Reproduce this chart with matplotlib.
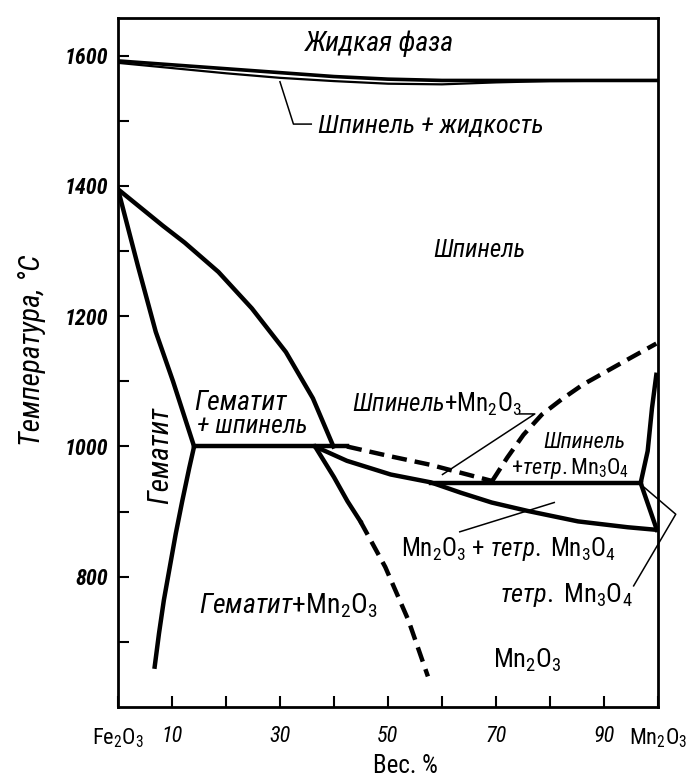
import matplotlib
matplotlib.use("Agg")
import matplotlib.pyplot as plt
from matplotlib import font_manager

# pick a narrow font if there is one, the original uses a condensed drafting type
fam = "DejaVu Sans"
for cand in ["Liberation Sans Narrow", "Roboto Condensed", "Open Sans Condensed"]:
    try:
        font_manager.findfont(font_manager.FontProperties(family=cand), fallback_to_default=False)
        fam = cand
        break
    except ValueError:
        pass

plt.rcParams["font.family"] = [fam, "DejaVu Sans"]
plt.rcParams["mathtext.fontset"] = "custom"
plt.rcParams["mathtext.rm"] = fam
plt.rcParams["mathtext.it"] = fam + ":italic"

# liquidus / solidus
liq_x = [0, 10, 20, 30, 40, 50, 60, 100]
liq_t = [1592, 1586, 1580, 1574, 1568, 1564, 1562, 1562]
sol_x = [0, 10, 20, 30, 40, 50, 60, 70, 80, 100]
sol_t = [1589, 1581, 1573, 1566, 1561, 1557, 1556, 1559, 1561, 1562]

# hematite solvus above and below 1000
hem_x = [0, 3.7, 7.0, 10.2, 14.1]
hem_t = [1395, 1277, 1176, 1100, 1000]
hem_low_x = [14.1, 13.2, 11.9, 10.7, 9.6, 8.5, 7.6, 6.8]
hem_low_t = [1000, 967, 916, 866, 815, 764, 713, 662]

# spinel boundary
spn_x = [0, 8.3, 12.35, 18.6, 24.8, 31.1, 36.1, 39.9]
spn_t = [1395, 1339, 1313, 1268, 1212, 1145, 1074, 1000]

iso1000_x = [14.1, 42.4]
iso1000_t = [1000, 1000]

# Mn2O3 solvus, solid then dashed
mno_x = [36.5, 40.0, 42.5, 44.9]
mno_t = [1000, 953, 916, 885]
mno_d_x = [44.9, 49.5, 53.8, 57.4]
mno_d_t = [885, 815, 733, 647]

# dashed spinel boundaries
dash1_x = [42.4, 50.4, 57.8, 69.3]
dash1_t = [1000, 985, 972, 947]
dash2_x = [69.3, 72.1, 75.1, 78.5, 82.1, 86.1, 90.4, 94.7, 99.7]
dash2_t = [947, 983, 1018, 1049, 1072, 1095, 1115, 1135, 1158]

# lower spinel curve
crv_x = [36.5, 42.4, 50.5, 57.9, 63.5, 69.2, 75.9, 85.2, 94.4, 99.8]
crv_t = [1000, 978, 957, 945, 929, 914, 901, 885, 876, 872]

hor_x = [57.9, 96.8]
hor_t = [944, 944]

rlow_x = [96.8, 99.8]
rlow_t = [944, 872]
rgt_x = [96.8, 98.1, 98.9, 99.7]
rgt_t = [944, 993, 1059, 1110]

# leader lines
ld1_x = [30.0, 32.5, 35.8]
ld1_t = [1560, 1495, 1495]
ld2_x = [74.4, 77.2, 60.1]
ld2_t = [1050, 1050, 957]
ld3_x = [63.3, 80.8]
ld3_t = [869, 914]
ld4_x = [97.5, 103.3, 95.5]
ld4_t = [937, 896, 786]

xticks = [0, 10, 20, 30, 40, 50, 60, 70, 80, 90, 100]
xlabels = [r"$\mathrm{Fe_2O_3}$", "10", "", "30", "", "50", "", "70", "", "90", r"$\mathrm{Mn_2O_3}$"]
yticks = [800, 1000, 1200, 1400, 1600]
yminor = [700, 900, 1100, 1300, 1500]

fig = plt.figure(figsize=(6.98, 7.79), dpi=100)
ax = fig.add_axes([0.169, 0.0924, 0.7736, 0.8846])

thick = 3.2
k = "black"
dash = (0, (3.4, 1.8))

ax.plot(liq_x, liq_t, color=k, lw=2.6)
ax.plot(sol_x, sol_t, color=k, lw=1.6)
ax.plot(hem_x, hem_t, color=k, lw=thick)
ax.plot(hem_low_x, hem_low_t, color=k, lw=thick)
ax.plot(spn_x, spn_t, color=k, lw=thick)
ax.plot(iso1000_x, iso1000_t, color=k, lw=thick)
ax.plot(mno_x, mno_t, color=k, lw=thick)
ax.plot(mno_d_x, mno_d_t, color=k, lw=thick, linestyle=dash)
ax.plot(dash1_x, dash1_t, color=k, lw=thick, linestyle=dash)
ax.plot(dash2_x, dash2_t, color=k, lw=thick, linestyle=dash)
ax.plot(crv_x, crv_t, color=k, lw=thick)
ax.plot(hor_x, hor_t, color=k, lw=thick)
ax.plot(rlow_x, rlow_t, color=k, lw=thick)
ax.plot(rgt_x, rgt_t, color=k, lw=thick)

for lx, lt in [(ld1_x, ld1_t), (ld2_x, ld2_t), (ld3_x, ld3_t), (ld4_x, ld4_t)]:
    ax.plot(lx, lt, color=k, lw=1.1, clip_on=False)

ax.text(48.4, 1618, "Жидкая фаза", fontsize=20, style="italic", ha="center", va="center")
ax.text(37.1, 1492, "Шпинель + жидкость", fontsize=19, style="italic", ha="left", va="center")
ax.text(67, 1301, "Шпинель", fontsize=18, style="italic", ha="center", va="center")
ax.text(22.7, 1067, "Гематит", fontsize=20, style="italic", ha="center", va="center")
ax.text(24.8, 1031, "+ шпинель", fontsize=18.5, style="italic", ha="center", va="center")
ax.text(7.8, 986, "Гематит", fontsize=21, style="italic", ha="center", va="center", rotation=90)
ax.text(43.3, 1064, r"$\mathit{Шпинель}$+Mn$_2$O$_3$", fontsize=18, ha="left", va="center")
ax.text(86.3, 1006, "Шпинель", fontsize=16, style="italic", ha="center", va="center")
ax.text(83.7, 966, r"+$\mathit{тетр.}$Mn$_3$O$_4$", fontsize=16, ha="center", va="center")
ax.text(52.4, 843, r"Mn$_2$O$_3$ + $\mathit{тетр.}$ Mn$_3$O$_4$", fontsize=18, ha="left", va="center")
ax.text(83, 772, r"$\mathit{тетр.}$ Mn$_3$O$_4$", fontsize=19, ha="center", va="center")
ax.text(15.0, 756, r"$\mathit{Гематит}$+Mn$_2$O$_3$", fontsize=20, ha="left", va="center")
ax.text(75.8, 672, r"Mn$_2$O$_3$", fontsize=19, ha="center", va="center")

ax.set_xlim(0, 100)
ax.set_ylim(600, 1658)
ax.set_xticks(xticks)
ax.set_xticklabels(xlabels, fontsize=16, style="italic")
ax.set_yticks(yticks)
ax.set_yticks(yminor, minor=True)
ax.set_yticklabels([str(v) for v in yticks], fontsize=16, style="italic", weight="bold")
ax.tick_params(which="both", direction="in", length=8, width=1.5)
ax.tick_params(axis="y", pad=7)
ax.tick_params(axis="x", pad=14)

for sp in ax.spines.values():
    sp.set_linewidth(2.0)

ax.set_ylabel("Температура, °C", fontsize=21, style="italic")
ax.yaxis.set_label_coords(-0.133, 0.518)
ax.set_xlabel("Вес. %", fontsize=18)
ax.xaxis.set_label_coords(0.533, -0.068)

fig.savefig("out.png", dpi=100)
